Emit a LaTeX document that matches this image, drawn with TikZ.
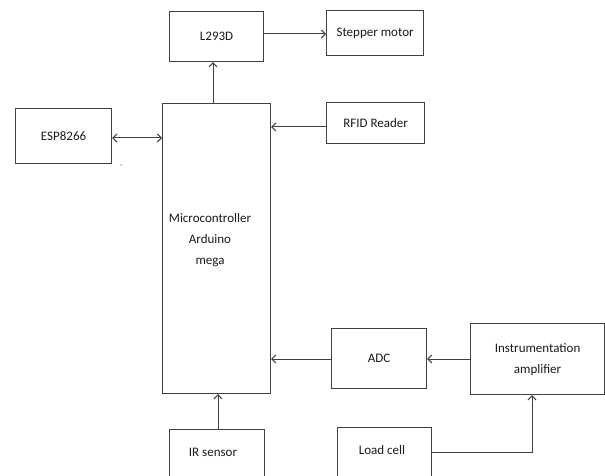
\documentclass[tikz,border=0pt]{standalone}
\usepackage{fontspec}
\setmainfont{Carlito}
\usetikzlibrary{arrows.meta}
\definecolor{ln}{HTML}{404040}
\definecolor{tx}{HTML}{1A1A1A}
\tikzset{
  box/.style={draw=ln, line width=1.2bp, anchor=north west, inner sep=0pt, align=center,
    font=\fontsize{13bp}{21bp}\selectfont, text=tx},
  lbl/.style={inner sep=0pt, align=center, font=\fontsize{13bp}{21bp}\selectfont, text=tx},
  conn/.style={draw=ln, line width=1bp},
  tip/.style={-{Straight Barb[length=4bp,width=8bp]}},
  dtip/.style={{Straight Barb[length=4bp,width=8bp]}-{Straight Barb[length=4bp,width=8bp]}},
}
\begin{document}
\begin{tikzpicture}[x=1bp,y=-1bp]
\useasboundingbox (0,0) rectangle (605,476);
\clip (0,0) rectangle (605,476);
% boxes
\node[box, minimum width=94bp, minimum height=50bp] (l293) at (169,11) {L293D};
\node[box, minimum width=97bp, minimum height=45bp] (stepper) at (326,10) {Stepper motor};
\node[box, minimum width=98bp, minimum height=41bp] (rfid) at (326,102) {RFID Reader};
\node[box, minimum width=96bp, minimum height=55bp] (esp) at (15,108) {ESP8266};
\node[box, minimum width=108bp, minimum height=290bp] (micro) at (162,103) {};
\node[lbl] (microtext) at (210,240) {Microcontroller\\Arduino\\mega};
\node[box, minimum width=95bp, minimum height=60bp] (adc) at (331,328) {ADC};
\node[box, minimum width=134bp, minimum height=71bp] (instr) at (470,323) {Instrumentation\\amplifier};
\node[box, minimum width=95bp, minimum height=70bp] (irbox) at (169,429) {};
\node[lbl] (ir) at (213,452) {IR sensor};
\node[box, minimum width=94bp, minimum height=70bp] (loadbox) at (337,427) {};
\node[lbl] (load) at (382,450) {Load cell};
% stray dot
\fill[ln] (121,165) circle (0.7bp);
% connectors
\draw[conn,tip] (micro.north -| 213,0) -- (l293.south -| 213,0);
\draw[conn,tip] (l293.east |- 0,34) -- (stepper.west |- 0,34);
\draw[conn,dtip] (esp.east |- 0,138) -- (micro.west |- 0,138);
\draw[conn,tip] (rfid.west |- 0,127) -- (micro.east |- 0,127);
\draw[conn,tip] (adc.west |- 0,359) -- (micro.east |- 0,359);
\draw[conn,tip] (instr.west |- 0,359) -- (adc.east |- 0,359);
\draw[conn,tip] (irbox.north -| 218,0) -- (micro.south -| 218,0);
\draw[conn,tip] (loadbox.east |- 0,452) -| (instr.south -| 532,0);
\end{tikzpicture}
\end{document}
